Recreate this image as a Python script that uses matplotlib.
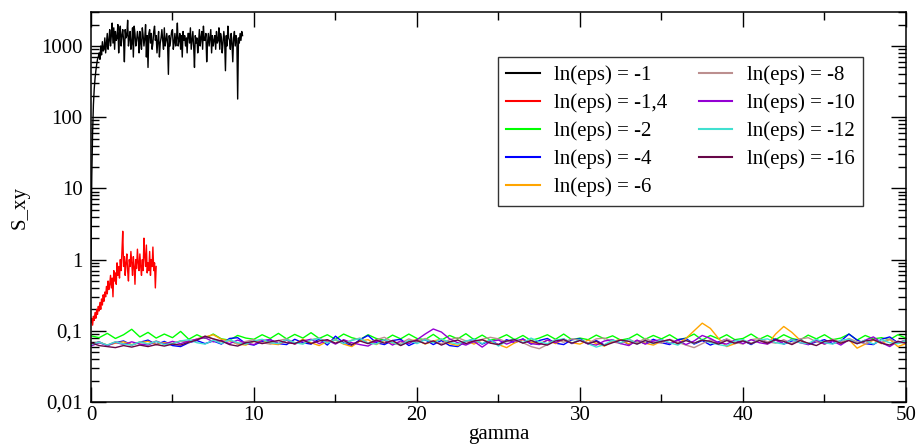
import numpy as np
import matplotlib
matplotlib.use("Agg")
import matplotlib.pyplot as plt

plt.rcParams['font.family'] = ['Liberation Serif', 'DejaVu Serif']

# S_xy vs gamma, one series per ln(eps)
black_dx = 0.05
black_y = [1, 15, 60, 150, 250, 350, 450, 550, 650, 700,
           800, 650, 1000, 750, 1150, 850, 900, 1300, 800, 1100,
           1500, 900, 1200, 1700, 1000, 1400, 2100, 1100, 1800, 900,
           1600, 1200, 1300, 2000, 800, 1500, 1900, 1000, 1400, 1700,
           1200, 600, 1700, 1300, 1400, 2300, 1000, 1300, 1600, 900,
           1100, 1800, 700, 1900, 1500, 1000, 1200, 1600, 1300, 800,
           1600, 1100, 900, 1800, 1400, 1000, 1300, 2000, 700, 1400,
           500, 1500, 1700, 1100, 1500, 900, 1100, 1600, 1900, 1200,
           1400, 800, 1200, 1600, 700, 1100, 1300, 1700, 1200, 900,
           1800, 1000, 1200, 1500, 1100, 400, 1400, 1000, 1300, 1600,
           1700, 900, 1100, 1500, 1000, 1300, 2100, 1000, 1200, 1500,
           900, 1400, 700, 1600, 1200, 1400, 1000, 1300, 800, 1500,
           1500, 1100, 1800, 900, 1200, 1600, 1000, 500, 1400, 1100,
           1300, 800, 1100, 1700, 1000, 1300, 1600, 900, 1900, 1200,
           1200, 1500, 600, 1100, 1500, 1000, 1300, 1700, 800, 1400,
           1000, 1200, 1400, 900, 1600, 1100, 1200, 1800, 900, 1500,
           1300, 800, 1100, 1600, 1200, 450, 1400, 1000, 1900, 1300,
           1200, 900, 1500, 1100, 600, 1300, 1600, 1000, 1400, 1200,
           180, 1300, 1100, 1500, 1200, 1600, 1400]

red_dx = 0.05
red_y = [0.13, 0.15, 0.12, 0.16, 0.14, 0.18, 0.15, 0.2, 0.17, 0.22,
         0.19, 0.25, 0.2, 0.28, 0.23, 0.32, 0.26, 0.35, 0.3, 0.42,
         0.33, 0.5, 0.38, 0.45, 0.6, 0.4, 0.55, 0.3, 0.7, 0.5,
         0.65, 0.45, 0.9, 0.6, 0.8, 0.55, 1.0, 0.7, 1.3, 2.5,
         0.8, 1.1, 0.6, 0.9, 1.2, 0.7, 0.5, 1.0, 0.8, 1.3,
         0.9, 0.6, 1.1, 0.8, 0.45, 1.0, 0.75, 1.4, 0.9, 0.7,
         1.2, 0.8, 0.6, 1.0, 0.7, 2.0, 1.1, 0.8, 1.6, 0.65,
         0.9, 0.7, 1.3, 0.6, 1.0, 0.8, 1.5, 0.7, 0.9, 0.4,
         0.8]

flat_dx = 0.5
green_y = [0.085, 0.08, 0.092, 0.078, 0.088, 0.105, 0.082, 0.095, 0.079, 0.09,
           0.08, 0.098, 0.076, 0.088, 0.078, 0.09, 0.077, 0.074, 0.086, 0.079,
           0.076, 0.088, 0.078, 0.092, 0.077, 0.089, 0.079, 0.094, 0.078, 0.088,
           0.076, 0.09, 0.08, 0.075, 0.088, 0.078, 0.074, 0.087, 0.077, 0.09,
           0.078, 0.075, 0.089, 0.074, 0.086, 0.077, 0.091, 0.075, 0.087, 0.074,
           0.078, 0.088, 0.075, 0.086, 0.073, 0.079, 0.088, 0.076, 0.09, 0.075,
           0.079, 0.075, 0.087, 0.077, 0.085, 0.074, 0.078, 0.09, 0.076, 0.086,
           0.077, 0.088, 0.075, 0.079, 0.09, 0.074, 0.086, 0.077, 0.088, 0.075,
           0.078, 0.09, 0.076, 0.086, 0.075, 0.088, 0.078, 0.074, 0.087, 0.077,
           0.088, 0.075, 0.079, 0.09, 0.074, 0.086, 0.077, 0.08, 0.075, 0.088,
           0.079]
blue_y = [0.063, 0.07, 0.062, 0.068, 0.072, 0.063, 0.069, 0.074, 0.064, 0.071,
          0.062, 0.06, 0.068, 0.073, 0.066, 0.072, 0.065, 0.078, 0.08, 0.066,
          0.063, 0.071, 0.075, 0.066, 0.064, 0.076, 0.068, 0.065, 0.077, 0.063,
          0.084, 0.068, 0.062, 0.075, 0.086, 0.068, 0.064, 0.073, 0.076, 0.062,
          0.07, 0.075, 0.064, 0.073, 0.062, 0.06, 0.071, 0.076, 0.065, 0.073,
          0.064, 0.075, 0.068, 0.077, 0.065, 0.073, 0.078, 0.067, 0.064, 0.075,
          0.077, 0.066, 0.073, 0.063, 0.07, 0.075, 0.064, 0.073, 0.066, 0.076,
          0.068, 0.064, 0.075, 0.078, 0.065, 0.073, 0.063, 0.07, 0.076, 0.066,
          0.073, 0.064, 0.075, 0.068, 0.077, 0.065, 0.072, 0.076, 0.064, 0.07,
          0.075, 0.066, 0.072, 0.09, 0.074, 0.066, 0.064, 0.076, 0.082, 0.068,
          0.074]
orange_y = [0.064, 0.069, 0.063, 0.067, 0.07, 0.064, 0.068, 0.071, 0.064, 0.068,
            0.066, 0.072, 0.07, 0.077, 0.082, 0.088, 0.076, 0.072, 0.065, 0.063,
            0.071, 0.075, 0.066, 0.064, 0.074, 0.065, 0.076, 0.068, 0.062, 0.071,
            0.074, 0.065, 0.06, 0.072, 0.075, 0.064, 0.073, 0.067, 0.063, 0.072,
            0.075, 0.065, 0.072, 0.076, 0.066, 0.062, 0.073, 0.065, 0.075, 0.068,
            0.064, 0.058, 0.068, 0.075, 0.069, 0.065, 0.074, 0.066, 0.076, 0.068,
            0.065, 0.074, 0.066, 0.061, 0.071, 0.075, 0.065, 0.073, 0.067, 0.063,
            0.071, 0.075, 0.066, 0.078, 0.1, 0.128, 0.108, 0.078, 0.06, 0.066,
            0.074, 0.066, 0.075, 0.065, 0.09, 0.115, 0.095, 0.074, 0.066, 0.072,
            0.065, 0.074, 0.066, 0.075, 0.057, 0.065, 0.074, 0.066, 0.076, 0.06,
            0.066]
brown_y = [0.064, 0.069, 0.063, 0.07, 0.066, 0.063, 0.07, 0.065, 0.072, 0.065,
           0.066, 0.072, 0.068, 0.076, 0.084, 0.077, 0.07, 0.073, 0.065, 0.071,
           0.075, 0.068, 0.065, 0.073, 0.077, 0.068, 0.066, 0.075, 0.079, 0.069,
           0.076, 0.066, 0.074, 0.079, 0.067, 0.075, 0.081, 0.07, 0.067, 0.077,
           0.069, 0.078, 0.07, 0.066, 0.075, 0.08, 0.072, 0.068, 0.076, 0.081,
           0.077, 0.07, 0.076, 0.068, 0.06, 0.056, 0.064, 0.076, 0.069, 0.077,
           0.074, 0.067, 0.077, 0.079, 0.07, 0.066, 0.076, 0.068, 0.078, 0.07,
           0.067, 0.076, 0.069, 0.063, 0.058, 0.066, 0.075, 0.068, 0.077, 0.069,
           0.065, 0.075, 0.078, 0.07, 0.067, 0.075, 0.066, 0.077, 0.08, 0.07,
           0.067, 0.076, 0.069, 0.078, 0.07, 0.066, 0.076, 0.069, 0.077, 0.067,
           0.074]
violet_y = [0.061, 0.068, 0.062, 0.069, 0.064, 0.07, 0.065, 0.063, 0.071, 0.065,
            0.071, 0.066, 0.072, 0.076, 0.08, 0.07, 0.073, 0.066, 0.074, 0.067,
            0.064, 0.073, 0.075, 0.066, 0.074, 0.065, 0.072, 0.076, 0.066, 0.074,
            0.065, 0.075, 0.068, 0.064, 0.061, 0.071, 0.074, 0.063, 0.072, 0.066,
            0.075, 0.09, 0.106, 0.096, 0.077, 0.068, 0.063, 0.071, 0.059, 0.071,
            0.074, 0.065, 0.072, 0.076, 0.066, 0.064, 0.074, 0.068, 0.077, 0.066,
            0.074, 0.065, 0.063, 0.072, 0.075, 0.066, 0.062, 0.074, 0.065, 0.072,
            0.075, 0.066, 0.074, 0.064, 0.072, 0.086, 0.078, 0.068, 0.065, 0.074,
            0.066, 0.075, 0.068, 0.065, 0.074, 0.066, 0.076, 0.068, 0.064, 0.074,
            0.065, 0.072, 0.063, 0.075, 0.066, 0.074, 0.082, 0.068, 0.06, 0.071,
            0.068]
turq_y = [0.064, 0.069, 0.063, 0.07, 0.065, 0.063, 0.07, 0.065, 0.071, 0.064,
          0.066, 0.072, 0.075, 0.068, 0.065, 0.074, 0.066, 0.075, 0.068, 0.065,
          0.072, 0.076, 0.068, 0.066, 0.075, 0.068, 0.065, 0.074, 0.078, 0.067,
          0.075, 0.066, 0.073, 0.078, 0.067, 0.065, 0.075, 0.068, 0.063, 0.073,
          0.066, 0.075, 0.068, 0.077, 0.069, 0.065, 0.072, 0.076, 0.066, 0.075,
          0.061, 0.072, 0.076, 0.068, 0.079, 0.07, 0.066, 0.074, 0.077, 0.067,
          0.075, 0.066, 0.059, 0.064, 0.074, 0.068, 0.076, 0.065, 0.073, 0.066,
          0.075, 0.068, 0.063, 0.074, 0.066, 0.076, 0.068, 0.064, 0.061, 0.072,
          0.075, 0.066, 0.074, 0.077, 0.068, 0.065, 0.075, 0.068, 0.066, 0.076,
          0.068, 0.065, 0.074, 0.076, 0.066, 0.074, 0.065, 0.075, 0.068, 0.066,
          0.073]
maroon_y = [0.068, 0.062, 0.06, 0.058, 0.062, 0.059, 0.063, 0.06, 0.064, 0.061,
            0.065, 0.063, 0.069, 0.074, 0.084, 0.077, 0.072, 0.064, 0.061, 0.068,
            0.071, 0.066, 0.07, 0.073, 0.068, 0.066, 0.074, 0.066, 0.072, 0.075,
            0.067, 0.073, 0.064, 0.072, 0.066, 0.074, 0.067, 0.073, 0.062, 0.07,
            0.073, 0.066, 0.072, 0.063, 0.07, 0.074, 0.066, 0.072, 0.075, 0.067,
            0.064, 0.072, 0.075, 0.067, 0.073, 0.066, 0.063, 0.072, 0.075, 0.067,
            0.073, 0.066, 0.071, 0.062, 0.068, 0.074, 0.071, 0.065, 0.073, 0.067,
            0.071, 0.075, 0.066, 0.073, 0.067, 0.074, 0.071, 0.065, 0.073, 0.067,
            0.072, 0.066, 0.073, 0.067, 0.075, 0.071, 0.064, 0.073, 0.067, 0.062,
            0.071, 0.074, 0.067, 0.073, 0.066, 0.072, 0.075, 0.067, 0.063, 0.071,
            0.067]

labels = ['ln(eps) = -1', 'ln(eps) = -1,4', 'ln(eps) = -2', 'ln(eps) = -4',
          'ln(eps) = -6', 'ln(eps) = -8', 'ln(eps) = -10', 'ln(eps) = -12',
          'ln(eps) = -16']
colors = ['#000000', '#ff0000', '#00ff00', '#0000ff', '#ffa500',
          '#bc8f8f', '#9400d3', '#40e0d0', '#670748']

yticks = [0.01, 0.1, 1, 10, 100, 1000]
ytick_labels = ['0,01', '0,1', '1', '10', '100', '1000']
xticks = [0, 10, 20, 30, 40, 50]

series = [black_y, red_y, green_y, blue_y, orange_y, brown_y, violet_y, turq_y, maroon_y]
steps = [black_dx, red_dx] + [flat_dx] * 7

fig = plt.figure(figsize=(9.17, 4.46), dpi=100)
ax = fig.add_axes([0.0992, 0.0987, 0.8888, 0.8743])

for y, dx, c, lab in zip(series, steps, colors, labels):
    x = np.arange(len(y)) * dx
    ax.plot(x, y, color=c, lw=1.0, label=lab)

ax.set_yscale('log')
ax.set_xlim(0, 50)
ax.set_ylim(0.01, 3000)
ax.set_yticks(yticks)
ax.set_yticklabels(ytick_labels)
ax.set_xticks(xticks)
ax.set_xticks([5, 15, 25, 35, 45], minor=True)
ax.tick_params(which='both', direction='in', top=True, right=True, labelsize=15, width=1.0)
ax.tick_params(which='major', length=11)
ax.tick_params(which='minor', length=5.5)
ax.tick_params(axis='y', pad=6)
ax.tick_params(axis='x', pad=3)
for s in ax.spines.values():
    s.set_linewidth(1.1)

ax.set_xlabel('gamma', fontsize=15, labelpad=0)
ax.set_ylabel('S_xy', fontsize=15, labelpad=8)

leg = ax.legend(ncol=2, loc='upper left', bbox_to_anchor=(498 / 917, 1 - 57 / 446),
                bbox_transform=fig.transFigure, fontsize=15, frameon=True,
                fancybox=False, handlelength=1.6, handletextpad=0.7,
                columnspacing=1.5, labelspacing=0.4, borderpad=0.4, borderaxespad=0)
leg.get_frame().set_edgecolor('black')
leg.get_frame().set_linewidth(1.0)
for h in leg.get_lines():
    h.set_linewidth(1.5)

fig.savefig('out.png', dpi=100)
